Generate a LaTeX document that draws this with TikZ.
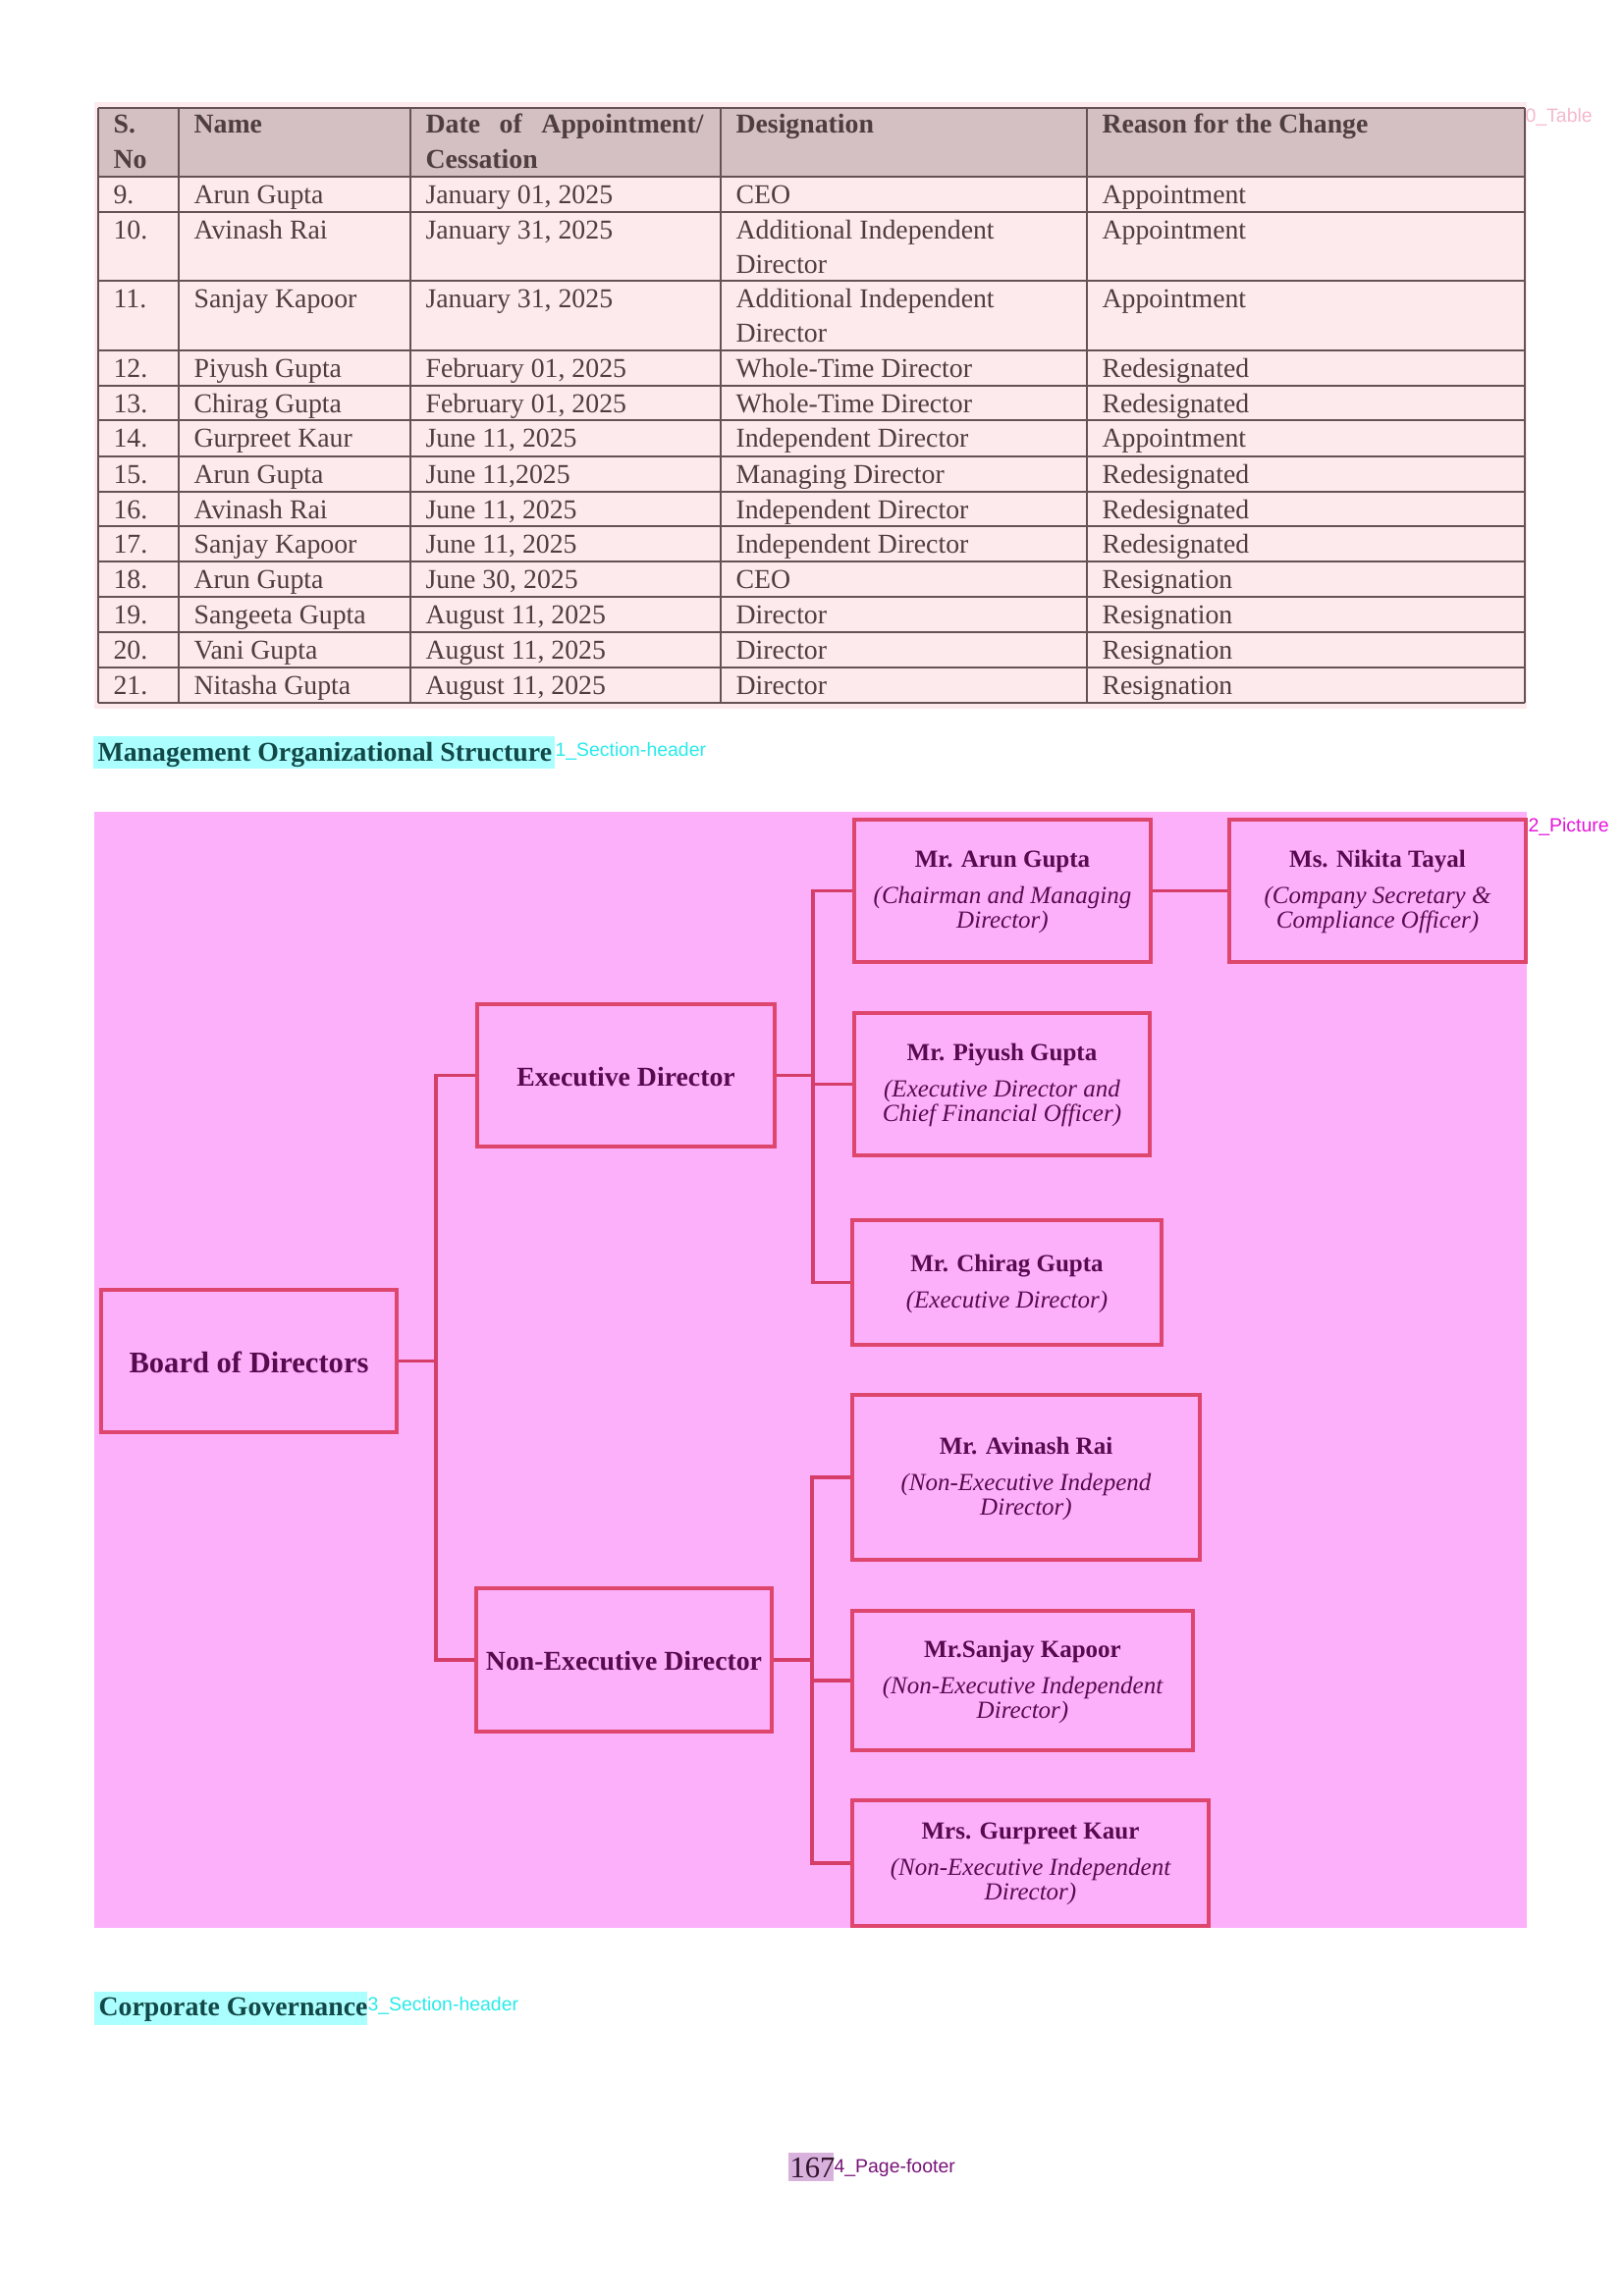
\documentclass[tikz,border=0pt]{standalone}
\usepackage{fontspec}
\setmainfont{Liberation Serif}
\newfontfamily\labfont{Liberation Sans}
\usetikzlibrary{fit}
\definecolor{picbg}{RGB}{252,176,250}
\definecolor{boxline}{RGB}{222,70,110}
\definecolor{conncol}{RGB}{214,62,106}
\definecolor{chartext}{RGB}{88,10,78}
\definecolor{tabhead}{RGB}{212,191,194}
\definecolor{tabrow}{RGB}{253,234,237}
\definecolor{tabline}{RGB}{100,82,85}
\definecolor{tabtext}{RGB}{78,62,64}
\definecolor{secbg}{RGB}{172,255,255}
\definecolor{sectext}{RGB}{18,72,72}
\definecolor{cyanlab}{RGB}{40,235,235}
\definecolor{piclab}{RGB}{230,20,220}
\definecolor{tablab}{RGB}{245,185,205}
\definecolor{footbg}{RGB}{216,178,220}
\definecolor{foottext}{RGB}{50,20,45}
\definecolor{footlab}{RGB}{120,20,120}
\newcommand\trow[6]{%
  \node[tx] (n#1) at (115,#1+27) {#2};
  \node[tx] (m#1) at (197,#1+27) {#3};
  \node[tx] (d#1) at (433,#1+27) {#4};
  \node[tx] (g#1) at (749,#1+27) {#5};
  \node[tx] (s#1) at (1122,#1+27) {#6};}
\newcommand\orgbox[4]{%
  \node[box, fit={#2 #3}] (#1) {};
  \node[btext] (#1t) at ([yshift=-0.4pt]#1.center) {#4};}
\begin{document}
\begin{tikzpicture}[x=0.35990pt,y=-0.35990pt,
  tx/.style={anchor=base west, inner sep=0pt, text=tabtext, font=\fontsize{10}{12}\selectfont},
  th/.style={tx, font=\fontsize{10}{12}\selectfont\bfseries},
  tline/.style={draw=tabline, line width=0.7pt},
  box/.style={draw=boxline, line width=1.45pt, inner sep=0pt},
  btext/.style={inner sep=0pt, align=center, text=chartext, font=\fontsize{9}{9}\selectfont},
  conn/.style={draw=conncol, line width=1.3pt},
  lab/.style={anchor=base west, inner sep=0pt, font=\labfont\fontsize{7}{8}\selectfont},
  sec/.style={anchor=base west, inner sep=0pt, text=sectext, font=\fontsize{10}{12}\selectfont\bfseries}]
\useasboundingbox (0,0) rectangle (1654,2339);
\fill[white] (0,0) rectangle (1654,2339);

% ---------- table ----------
\fill[tabrow] (96,104) rectangle (1555,722);
\fill[tabhead] (100,110) rectangle (1553,180);
\foreach \y in {110,180,216,286,357,393,428,465,501,536,572,608,644,680,716}
  \draw[tline] (100,\y) -- (1553,\y);
\foreach \x in {100,182,418,734,1107,1553}
  \draw[tline] (\x,110) -- (\x,716);

\node[th] (h1a) at (115,135) {S.};
\node[th] (h1b) at (115,171) {No};
\node[th] (h2) at (197,135) {Name};
\node[th] (h3a) at (433,135) {\makebox[101.9pt][l]{Date\hfill of\hfill Appointment/}};
\node[th] (h3b) at (433,171) {Cessation};
\node[th] (h4) at (749,135) {Designation};
\node[th] (h5) at (1122,135) {Reason for the Change};

\trow{180}{9.}{Arun Gupta}{January 01, 2025}{CEO}{Appointment}
\trow{216}{10.}{Avinash Rai}{January 31, 2025}{Additional Independent}{Appointment}
\node[tx] (g216b) at (749,278) {Director};
\trow{286}{11.}{Sanjay Kapoor}{January 31, 2025}{Additional Independent}{Appointment}
\node[tx] (g286b) at (749,348) {Director};
\trow{357}{12.}{Piyush Gupta}{February 01, 2025}{Whole-Time Director}{Redesignated}
\trow{393}{13.}{Chirag Gupta}{February 01, 2025}{Whole-Time Director}{Redesignated}
\trow{428}{14.}{Gurpreet Kaur}{June 11, 2025}{Independent Director}{Appointment}
\trow{465}{15.}{Arun Gupta}{June 11,2025}{Managing Director}{Redesignated}
\trow{501}{16.}{Avinash Rai}{June 11, 2025}{Independent Director}{Redesignated}
\trow{536}{17.}{Sanjay Kapoor}{June 11, 2025}{Independent Director}{Redesignated}
\trow{572}{18.}{Arun Gupta}{June 30, 2025}{CEO}{Resignation}
\trow{608}{19.}{Sangeeta Gupta}{August 11, 2025}{Director}{Resignation}
\trow{644}{20.}{Vani Gupta}{August 11, 2025}{Director}{Resignation}
\trow{680}{21.}{Nitasha Gupta}{August 11, 2025}{Director}{Resignation}

\node[lab, text=tablab] (l0) at (1553,124) {0\_Table};

% ---------- section header 1 ----------
\fill[secbg] (95,750) rectangle (565,783);
\node[sec] (sec1) at (99,775) {Management Organizational Structure};
\node[lab, text=cyanlab] (l1) at (565,770) {1\_Section-header};

% ---------- picture ----------
\fill[picbg] (96,827) rectangle (1555,1964);
\node[lab, text=piclab] (l2) at (1556,847) {2\_Picture};

\orgbox{board}{(103,1314)}{(404,1459)}{\fontsize{11}{13}\selectfont\bfseries Board of Directors}
\orgbox{exec}{(486,1023)}{(789,1168)}{\fontsize{10}{12}\selectfont\bfseries Executive Director}
\orgbox{nonexec}{(485,1618)}{(786,1764)}{\fontsize{10}{12}\selectfont\bfseries Non-Executive Director}
\orgbox{arun}{(870,835)}{(1172,980)}{{\bfseries Mr. Arun Gupta}\\[4.3pt]{\itshape (Chairman and Managing}\\{\itshape Director)}}
\orgbox{nikita}{(1252,835)}{(1554,980)}{{\bfseries Ms. Nikita Tayal}\\[4.3pt]{\itshape (Company Secretary \&}\\{\itshape Compliance Officer)}}
\orgbox{piyush}{(870,1032)}{(1171,1177)}{{\bfseries Mr. Piyush Gupta}\\[4.3pt]{\itshape (Executive Director and}\\{\itshape Chief Financial Officer)}}
\orgbox{chirag}{(868,1243)}{(1183,1370)}{{\bfseries Mr. Chirag Gupta}\\[4.3pt]{\itshape (Executive Director)}}
\orgbox{avinash}{(868,1421)}{(1222,1589)}{{\bfseries Mr. Avinash Rai}\\[4.3pt]{\itshape (Non-Executive Independ}\\{\itshape Director)}}
\orgbox{sanjay}{(868,1641)}{(1215,1783)}{{\bfseries Mr.Sanjay Kapoor}\\[4.3pt]{\itshape (Non-Executive Independent}\\{\itshape Director)}}
\orgbox{gurpreet}{(868,1834)}{(1231,1962)}{{\bfseries Mrs. Gurpreet Kaur}\\[4.3pt]{\itshape (Non-Executive Independent}\\{\itshape Director)}}

\coordinate (trunk) at (444,0);
\coordinate (busE) at (828,0);
\coordinate (busN) at (827,0);
\draw[conn] (board.east) -- (board.east -| trunk) |- (exec.west);
\draw[conn] (board.east -| trunk) |- (nonexec.west);
\draw[conn] (exec.east) -- (exec.east -| busE) |- (arun.west);
\draw[conn] (exec.east -| busE) |- (piyush.west);
\draw[conn] (exec.east -| busE) |- (chirag.west);
\draw[conn] (nonexec.east) -- (nonexec.east -| busN) |- (avinash.west);
\draw[conn] (nonexec.east -| busN) |- (sanjay.west);
\draw[conn] (nonexec.east -| busN) |- (gurpreet.west);
\draw[conn] (arun.east) -- (nikita.west);

% ---------- section header 2 ----------
\fill[secbg] (96,2029) rectangle (374,2063);
\node[sec] (sec2) at (100,2053) {Corporate Governance};
\node[lab, text=cyanlab] (l3) at (374,2048) {3\_Section-header};

% ---------- footer ----------
\fill[footbg] (803,2193) rectangle (849,2222);
\node[anchor=base west, inner sep=0pt, text=foottext, font=\fontsize{11}{13}\selectfont] (foot) at (804,2218) {167};
\node[lab, text=footlab] (l4) at (849,2213) {4\_Page-footer};
\end{tikzpicture}
\end{document}
